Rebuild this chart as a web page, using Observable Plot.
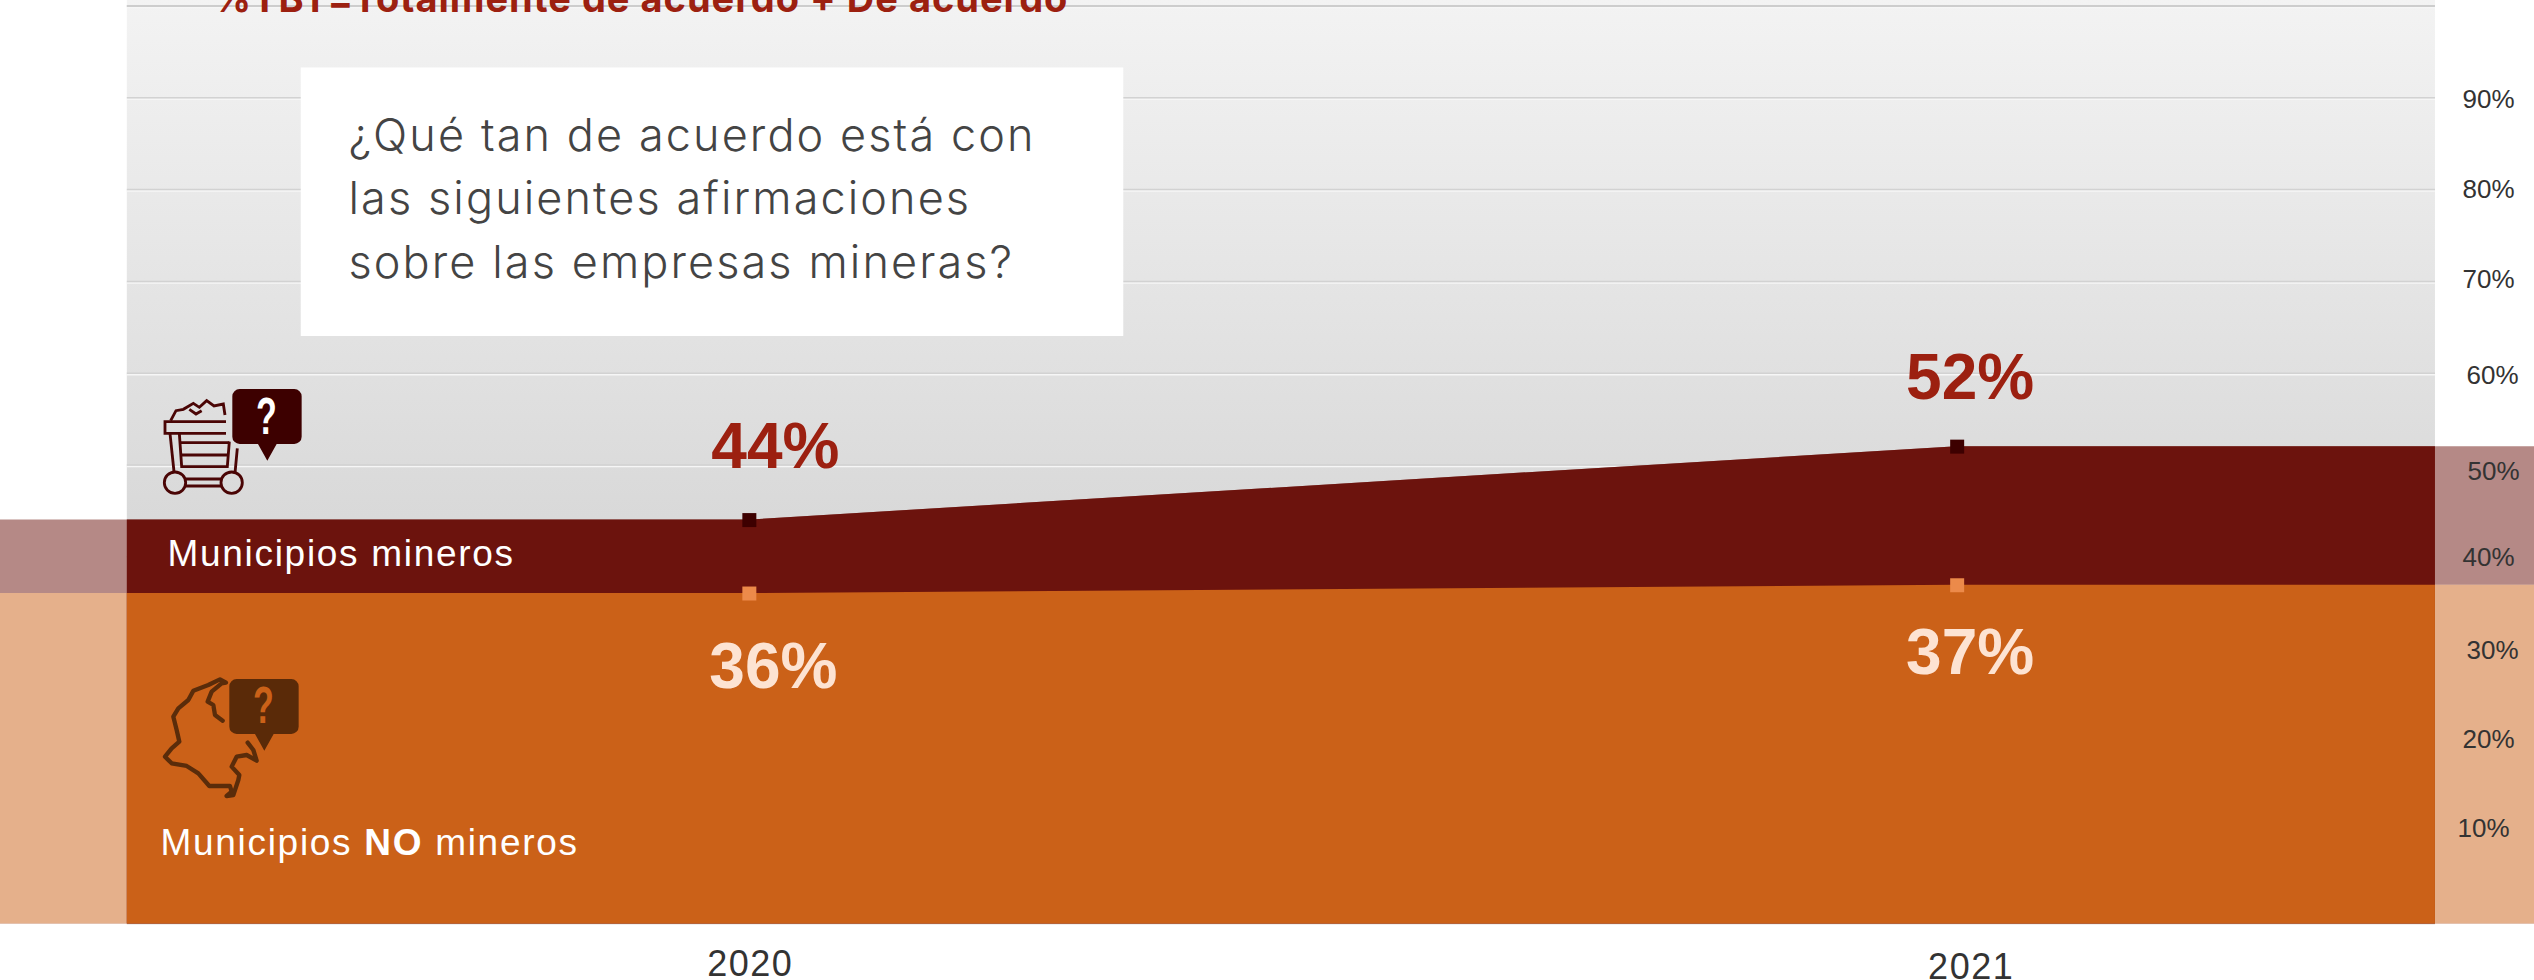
<!DOCTYPE html>
<html lang="es">
<head>
<meta charset="utf-8">
<script src="https://cdn.jsdelivr.net/npm/d3@7"></script>
<script src="https://cdn.jsdelivr.net/npm/@observablehq/plot@0.6"></script>
<style>html,body{margin:0;padding:0;background:#fff;overflow:hidden}svg{display:block}</style>
</head>
<body>
<div id="chart"></div>
<script>
const years = [2020, 2021];
const mineros = [44, 52];
const noMineros = [36, 36.9];
const gridValues = [10, 20, 30, 40, 50, 60, 70, 80, 90, 100];
const tickValues = [90, 80, 70, 60, 50, 40, 30, 20, 10];
const titleText = "%TBT=Totalmente de acuerdo + De acuerdo";
const questionLines = ["¿Qué tan de acuerdo está con", "las siguientes afirmaciones", "sobre las empresas mineras?"];

const xMin = 2019.38, xMax = 2021.478, panelL = 2019.485, panelR = 2021.396;
const extend = (vals) => [
  {x: xMin, v: vals[0]}, {x: years[0], v: vals[0]}, {x: years[1], v: vals[1]}, {x: xMax, v: vals[1]}
];
const inner = (vals) => [
  {x: panelL, v: vals[0]}, {x: years[0], v: vals[0]}, {x: years[1], v: vals[1]}, {x: panelR, v: vals[1]}
];
const MAROON = "#6c130d", ORANGE = "#cb6118", RED = "#9c2010", PEACH = "#fde3d2", INK = "#333333";
const SANS = "'Liberation Sans', Arial, sans-serif";
const WIDE = "Inter, 'Open Sans', sans-serif";

const valueLabel = (year, v, text, fill, dx, dy) => Plot.text([{x: year, v}], {
  x: "x", y: "v", text: () => text, fill, dx, dy, lineAnchor: "bottom", textAnchor: "middle",
  fontFamily: SANS, fontWeight: 700, fontSize: 64
});
const tickNudgeX = {90: 27, 80: 27, 70: 27, 60: 31, 50: 32, 40: 27, 30: 31, 20: 27, 10: 22};
const tickNudgeY = {90: 2, 80: 0.5, 70: -2, 60: 2, 50: 7, 40: 1, 30: 2, 20: -1, 10: -4};
const tickMark = (t) => Plot.text([t], {
  x: () => panelR, y: (d) => d, text: (d) => d + "%", dx: tickNudgeX[t], dy: tickNudgeY[t],
  textAnchor: "start", fontFamily: SANS, fontSize: 26, fill: INK
});
const note = (text, dx, dy, fill, fontSize, fontFamily, fontWeight) => Plot.text([text], {
  text: (d) => d, frameAnchor: "top-left", dx, dy, lineAnchor: "bottom", textAnchor: "start",
  fill, fontSize, fontFamily, fontWeight
});
const yearLabel = (year, dx, dy) => Plot.text([year], {
  x: (d) => d, text: (d) => String(d), frameAnchor: "top", dx, dy, lineAnchor: "bottom", textAnchor: "middle",
  fontFamily: SANS, fontSize: 36, fill: INK
});

const defs = () => {
  const s = d3.create("svg:defs");
  const g = s.append("linearGradient").attr("id", "panelGrad").attr("x1", 0).attr("x2", 0).attr("y1", 0).attr("y2", 1);
  g.append("stop").attr("offset", "0%").attr("stop-color", "#f3f3f3");
  g.append("stop").attr("offset", "56%").attr("stop-color", "#d9d9d9");
  g.append("stop").attr("offset", "100%").attr("stop-color", "#d9d9d9");
  return s.node();
};

const plot = Plot.plot({
  width: 2534, height: 980,
  marginLeft: 0, marginRight: 0, marginTop: 0, marginBottom: 0,
  style: {background: "#fff", overflow: "hidden"},
  x: {type: "linear", domain: [xMin, xMax], range: [0, 2534], axis: null},
  y: {type: "linear", domain: [0, 100], range: [923.5, 5.5], axis: null},
  marks: [
    defs,
    Plot.rect([0], {x1: () => panelL, x2: () => panelR, y1: () => -0.1, y2: () => 100.7, fill: "url(#panelGrad)"}),
    Plot.ruleY(gridValues, {x1: () => panelL, x2: () => panelR, stroke: "#f6f6f6", strokeWidth: 1.5, dy: 1.5}),
    Plot.ruleY(gridValues, {x1: () => panelL, x2: () => panelR, stroke: "#d2d2d2", strokeWidth: 1.5}),
    Plot.ruleY([100], {x1: () => panelL, x2: () => panelR, stroke: "#c9c9c9", strokeWidth: 1.5}),
    // faded bands beyond the panel
    Plot.areaY(extend(mineros), {x: "x", y: "v", fill: MAROON, fillOpacity: 0.5}),
    Plot.areaY(extend(noMineros), {x: "x", y: "v", fill: "#fff"}),
    Plot.areaY(extend(noMineros), {x: "x", y: "v", fill: ORANGE, fillOpacity: 0.5}),
    // solid bands inside the panel
    Plot.areaY(inner(mineros), {x: "x", y: "v", fill: MAROON}),
    Plot.areaY(inner(noMineros), {x: "x", y: "v", fill: ORANGE}),
    Plot.dot(years.map((x, i) => ({x, v: mineros[i]})), {x: "x", y: "v", symbol: "square", r: 7.9, fill: "#3d0000"}),
    Plot.dot(years.map((x, i) => ({x, v: noMineros[i]})), {x: "x", y: "v", symbol: "square", r: 7.9, fill: "#ec8a4a"}),
    valueLabel(2020, 44, "44%", RED, 26, -52),
    valueLabel(2021, 52, "52%", RED, 13, -47.5),
    valueLabel(2020, 36, "36%", PEACH, 24, 94.5),
    valueLabel(2021, 36.9, "37%", PEACH, 13, 88.5),
    ...tickValues.map(tickMark),
    yearLabel(2020, 1, 975),
    yearLabel(2021, 14, 978),
    // question box
    Plot.rect([0], {x1: () => 2019.629, x2: () => 2020.31, y1: () => 64.0, y2: () => 93.25, fill: "#fff"}),
    ...questionLines.map((t, i) => note(t, 348, 150 + i * 63.5, "#444444", 45, WIDE, 300)),
    note(titleText, 212, 11.5, RED, 38, WIDE, 700),
    note("Municipios mineros", 167, 565, "#fff", 37, SANS, 400),
    note("Municipios NO mineros", 160, 854, "#fff", 37, SANS, 400)
  ]
});

const svg = d3.select(plot);

// letter spacing and the bold word
svg.selectAll("text").each(function () {
  const el = d3.select(this), t = this.textContent;
  if (/^\d+%$/.test(t) && el.attr("font-size") === "26") el.style("letter-spacing", "1.2px");
  if (/^20\d\d$/.test(t)) el.style("letter-spacing", "1.5px");
  if (t.startsWith("Municipios")) el.style("letter-spacing", "1.7px");
  if (questionLines.includes(t)) el.style("letter-spacing", "2.1px");
  if (t === titleText) el.style("letter-spacing", "1px");
});
svg.selectAll("text").filter(function () { return this.textContent === "Municipios NO mineros"; }).each(function () {
  const el = d3.select(this); el.text(null);
  el.append("tspan").text("Municipios ");
  el.append("tspan").attr("font-weight", 700).text("NO");
  el.append("tspan").text(" mineros");
});

// icons
function bubble(g, fill, tipX, ox) {
  g.append("path").attr("fill", fill).attr("stroke", "none").attr("d",
    `M${ox + 22},57 H${ox + 186} a22,22 0 0 1 22,22 V200 a22,22 0 0 1 -22,22 H${tipX + 28} L${tipX},272 L${tipX - 28},222 H${ox + 22} a22,22 0 0 1 -22,-22 V79 a22,22 0 0 1 22,-22 Z`);
}
function mark(g, x, y, fill) {
  g.append("text").attr("transform", `translate(${x},${y}) scale(0.72,1.08)`).attr("text-anchor", "middle")
    .attr("fill", fill).attr("stroke", "none")
    .attr("font-family", SANS).attr("font-weight", 700).attr("font-size", 142).text("?");
}
const cart = svg.append("g").attr("transform", "translate(140,370) scale(0.3333)")
  .attr("fill", "none").attr("stroke", "#4a0505").attr("stroke-width", 8.5);
bubble(cart, "#3d0000", 382, 277);
mark(cart, 379, 193, "#fff");
const cartPaths = [
  "M258,155 H75 V190 H258",
  "M90,190 L102,305",
  "M118,190 L125,290 H262 L268,215",
  "M118,218 H268", "M122,255 H265",
  "M292,235 L285,310",
  "M137,327 H243", "M137,348 H243",
  "M92,152 L108,122 L130,118 L160,100 L178,112 L200,92 L222,108 L250,102 L255,135",
  "M148,118 L168,132 L185,122"
];
cartPaths.forEach((d) => cart.append("path").attr("d", d));
[105, 275].forEach((cx) => cart.append("circle").attr("cx", cx).attr("cy", 338).attr("r", 32));

const mapIcon = svg.append("g").attr("transform", "translate(140,660) scale(0.3333)");
bubble(mapIcon, "#5a2a08", 373, 268);
mark(mapIcon, 370, 188, "#cb6118");
mapIcon.append("path").attr("fill", "none").attr("stroke", "#5a2c0a").attr("stroke-width", 13).attr("stroke-linejoin", "round")
  .attr("stroke-linecap", "round")
  .attr("d", "M248,182 L225,165 L220,135 L203,125 L215,95 L245,70 L258,68 L240,58 L205,75 L160,92 L145,120 L115,145 L100,170 L110,210 L118,245 L95,265 L75,290 L95,310 L140,318 L175,340 L208,378 L270,378 L275,395 L260,408 L280,405 L295,360 L298,345 L275,320 L290,290 L320,285 L350,302 L340,270 L323,248");

document.getElementById("chart").append(plot);
</script>
</body>
</html>
